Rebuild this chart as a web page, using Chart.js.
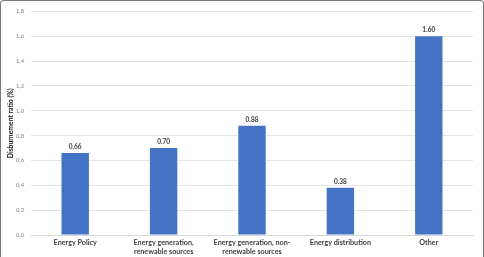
<!DOCTYPE html>
<html>
<head>
<meta charset="utf-8">
<script src="https://cdn.jsdelivr.net/npm/chart.js@4"></script>
<style>
  html, body { margin: 0; padding: 0; background: #fff; }
  #wrap { position: relative; width: 484px; height: 257px; box-sizing: border-box;
          border: 1.5px solid #7a7a7a; border-bottom: none; border-radius: 4px 4px 0 0; }
  canvas { position: absolute; left: 0; top: 0; }
</style>
</head>
<body>
<div id="wrap"><canvas id="c" width="481" height="255"></canvas></div>
<script>
// datos
const categorias = [
  "Energy Policy",
  ["Energy generation,", "renewable sources"],
  ["Energy generation, non-", "renewable sources"],
  "Energy distribution",
  "Other"
];
const ratios = [0.66, 0.70, 0.88, 0.38, 1.60];
const yMax = 1.8;
const yStep = 0.2;

// etiquetas de valor sobre cada barra
const etiquetasValor = {
  id: "etiquetasValor",
  afterDatasetsDraw(chart) {
    const ctx = chart.ctx;
    const meta = chart.getDatasetMeta(0);
    ctx.save();
    ctx.font = "bold 6.5px Lato";
    ctx.fillStyle = "#404040";
    ctx.textAlign = "center";
    ctx.textBaseline = "bottom";
    meta.data.forEach((bar, i) => {
      ctx.fillText(ratios[i].toFixed(2), bar.x, bar.y - 3);
    });
    ctx.restore();
  }
};

new Chart(document.getElementById("c"), {
  type: "bar",
  data: {
    labels: categorias,
    datasets: [{
      data: ratios,
      backgroundColor: "#4472C4",
      categoryPercentage: 0.62,
      barPercentage: 0.5
    }]
  },
  options: {
    responsive: false,
    animation: false,
    layout: { padding: { left: 0, right: 9, top: 3, bottom: -3 } },
    plugins: { legend: { display: false }, tooltip: { enabled: false } },
    scales: {
      x: {
        grid: { display: false, drawTicks: false },
        border: { color: "#d9d9d9" },
        ticks: {
          color: "#404040",
          font: { family: "Lato", size: 7.2, weight: 700, lineHeight: 1.25 },
          padding: 3,
          maxRotation: 0,
          autoSkip: false
        }
      },
      y: {
        min: 0,
        max: yMax,
        afterFit(scale) { scale.width = 30; },
        grid: { color: "#e4e4e4", drawTicks: false },
        border: { display: false },
        ticks: {
          stepSize: yStep,
          color: "#7f7f7f",
          font: { family: "Lato", size: 5.8 },
          padding: 7,
          callback: v => v.toFixed(1).replace(".", ",")
        },
        title: {
          display: true,
          text: "Disburnement ratio (%)",
          color: "#1a1a1a",
          font: { family: "Lato", size: 6.8, weight: 700 },
          padding: { top: 6, bottom: 0 }
        }
      }
    }
  },
  plugins: [etiquetasValor]
});
</script>
</body>
</html>
